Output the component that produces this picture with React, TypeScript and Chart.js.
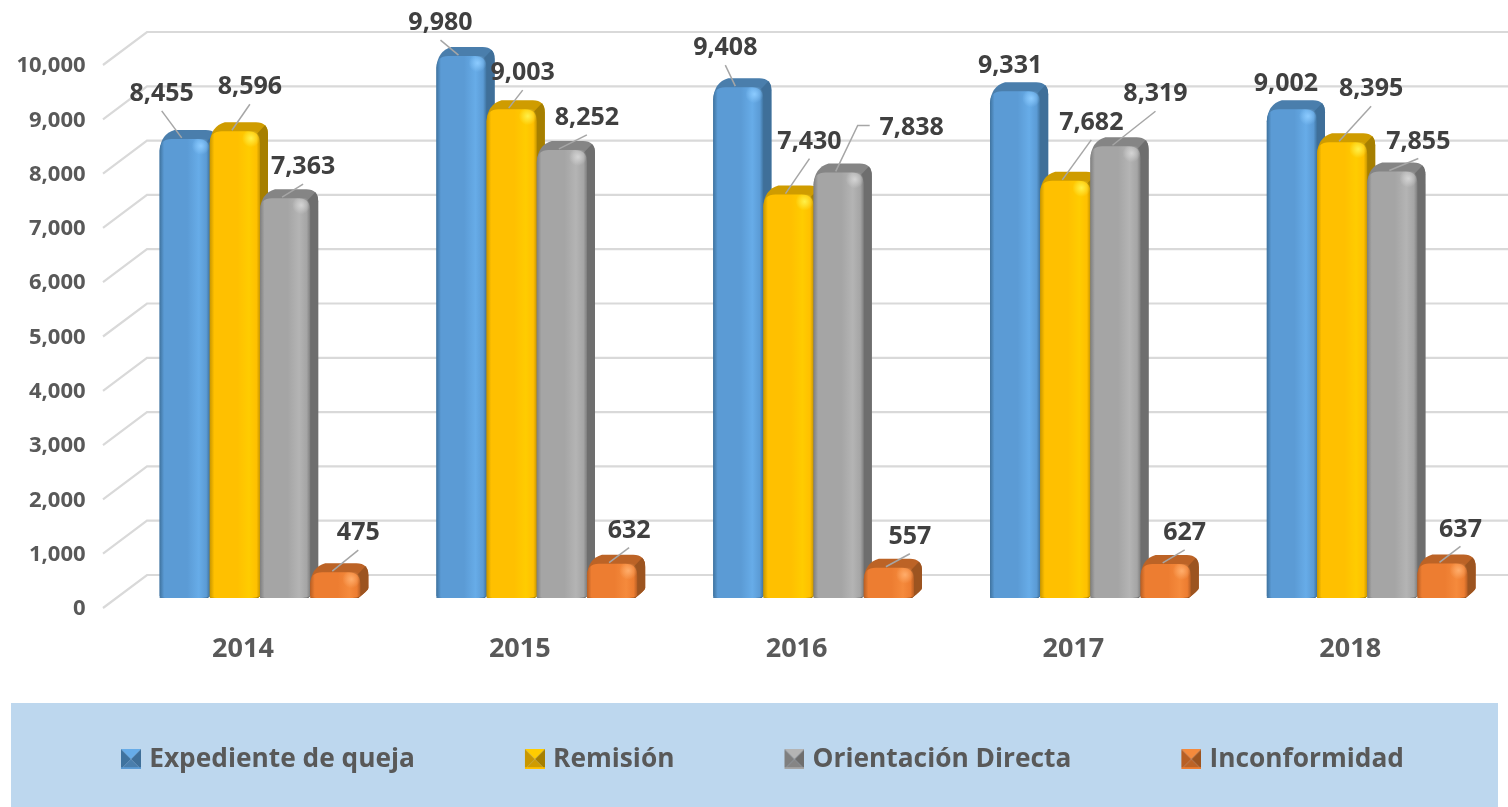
import React, { useEffect, useRef } from "react";
import { Chart, registerables } from "chart.js";

Chart.register(...registerables);

const years = ["2014", "2015", "2016", "2017", "2018"];
const seriesNames = ["Expediente de queja", "Remisión", "Orientación Directa", "Inconformidad"];
const expediente = [8455, 9980, 9408, 9331, 9002];
const remision = [8596, 9003, 7430, 7682, 8395];
const orientacion = [7363, 8252, 7838, 8319, 7855];
const inconformidad = [475, 632, 557, 627, 637];

// Where each hand-placed data label sits relative to the top of its bar.
const labelShiftExpediente = [[-23, -47], [-21, -35], [-13, -41], [-5, -27], [-6, -27]];
const labelShiftRemision = [[15, -46], [11, -38], [21, -55], [26, -60], [29, -55]];
const labelShiftOrientacion = [[18, -33], [25, -34], [73, -47], [40, -54], [26, -32]];
const labelShiftInconformidad = [[23, -41], [17, -35], [21, -33], [19, -33], [18, -36]];
const labelShifts = [labelShiftExpediente, labelShiftRemision, labelShiftOrientacion, labelShiftInconformidad];

const palettes = [
  { front: "#5B9BD5", light: "#67ACE8", dark: "#3F739F", top: "#4A7EAC", side: "#3F6F99", spot: "#8CCBFF" },
  { front: "#FFC000", light: "#FFCC00", dark: "#C99700", top: "#CF9C00", side: "#A67F00", spot: "#FFF04A" },
  { front: "#A5A5A5", light: "#B4B4B4", dark: "#7F7F7F", top: "#858585", side: "#6E6E6E", spot: "#D4D4D4" },
  { front: "#ED7D31", light: "#F58A3C", dark: "#B85F24", top: "#BC6326", side: "#9C5420", spot: "#FFAD6B" },
];

const FONT = '"Open Sans", "Noto Sans", sans-serif';
const LEGEND_PAD = 43;
const LEGEND_BOX = 82;
const LEGEND_HEIGHT = 104;

function makeLegendIcon(p: (typeof palettes)[number]) {
  const s = 20;
  const c = document.createElement("canvas");
  c.width = LEGEND_BOX + 10;
  c.height = s;
  const g = c.getContext("2d") as CanvasRenderingContext2D;
  const o = c.width - s;
  const tri = (col: string, pts: number[][]) => {
    g.fillStyle = col;
    g.beginPath();
    g.moveTo(o + pts[0][0], pts[0][1]);
    pts.slice(1).forEach((q) => g.lineTo(o + q[0], q[1]));
    g.closePath();
    g.fill();
  };
  const m = s / 2;
  tri(p.light, [[0, 0], [s, 0], [m, m]]);
  tri(p.dark, [[0, 0], [0, s], [m, m]]);
  tri(p.side, [[s, 0], [s, s], [m, m]]);
  tri(p.top, [[0, s], [s, s], [m, m]]);
  g.fillStyle = p.front;
  g.fillRect(o, s - 2, s, 2);
  return c;
}

function drawBar3D(ctx: CanvasRenderingContext2D, x: number, w: number, y: number, base: number, p: (typeof palettes)[number]) {
  const d = 8;
  const up = 9;
  const r = Math.min(12, (base - y) * 0.5);
  // back silhouette: top and side faces
  ctx.beginPath();
  ctx.moveTo(x, y + r);
  ctx.quadraticCurveTo(x + 1, y - up + 4, x + 15, y - up);
  ctx.lineTo(x + w + d - r, y - up);
  ctx.quadraticCurveTo(x + w + d, y - up, x + w + d, y - up + r);
  ctx.lineTo(x + w + d, base - 10);
  ctx.quadraticCurveTo(x + w + d, base - 8, x + w - 2, base);
  ctx.lineTo(x, base);
  ctx.closePath();
  ctx.save();
  ctx.clip();
  ctx.fillStyle = p.top;
  ctx.fillRect(x - 2, y - up - 2, w + d + 4, base - y + up + 4);
  ctx.fillStyle = p.side;
  ctx.beginPath();
  ctx.moveTo(x + w - r, y + r);
  ctx.lineTo(x + w + d - 3, y - up + 3);
  ctx.lineTo(x + w + d + 3, y - up + 3);
  ctx.lineTo(x + w + d + 3, base + 2);
  ctx.lineTo(x + w - r, base + 2);
  ctx.closePath();
  ctx.fill();
  ctx.restore();
  // front face
  const grad = ctx.createLinearGradient(x, 0, x + w, 0);
  grad.addColorStop(0, p.dark);
  grad.addColorStop(0.09, p.front);
  grad.addColorStop(0.55, p.front);
  grad.addColorStop(0.78, p.light);
  grad.addColorStop(0.93, p.front);
  grad.addColorStop(1, p.dark);
  ctx.beginPath();
  ctx.moveTo(x, base - 2);
  ctx.lineTo(x, y + r);
  ctx.quadraticCurveTo(x, y, x + r, y);
  ctx.lineTo(x + w - r, y);
  ctx.quadraticCurveTo(x + w, y, x + w, y + r);
  ctx.lineTo(x + w, base - 2);
  ctx.quadraticCurveTo(x + w - 3, base, x + w - 8, base);
  ctx.lineTo(x + 6, base);
  ctx.quadraticCurveTo(x + 2, base, x, base - 2);
  ctx.closePath();
  ctx.fillStyle = grad;
  ctx.fill();
  // corner highlight
  const sx = x + w - 9;
  const sy = y + 7;
  const spot = ctx.createRadialGradient(sx, sy, 0, sx, sy, 9);
  spot.addColorStop(0, p.spot);
  spot.addColorStop(1, p.spot + "00");
  ctx.fillStyle = spot;
  ctx.fillRect(sx - 9, sy - 7, 18, 16);
}

const wallPlugin = {
  id: "wall",
  beforeLayout(chart: any) {
    const legend = chart.legend;
    if (legend.__fitted) return;
    legend.__fitted = true;
    const fit = legend.fit;
    legend.fit = function () {
      fit.call(this);
      this.height = LEGEND_HEIGHT;
    };
  },
  beforeDraw(chart: any) {
    const { ctx, legend, scales, width } = chart;
    ctx.save();
    ctx.fillStyle = "#BDD7EE";
    ctx.fillRect(legend.left, legend.top, width - legend.left - 10, legend.height);
    ctx.strokeStyle = "#D9D9D9";
    ctx.lineWidth = 2.2;
    const left = chart.chartArea.left;
    scales.y.ticks.forEach((t: any) => {
      const py = scales.y.getPixelForValue(t.value);
      ctx.beginPath();
      ctx.moveTo(left - 18.6, py + 10);
      ctx.lineTo(left + 25.4, py - 23);
      ctx.lineTo(width, py - 23);
      ctx.stroke();
    });
    ctx.restore();
  },
};

const barsPlugin = {
  id: "bars3d",
  beforeDatasetsDraw(chart: any) {
    const { ctx } = chart;
    chart.data.datasets.forEach((_: any, i: number) => {
      const meta = chart.getDatasetMeta(i);
      meta.data.forEach((el: any) => {
        const { x, y, base, width } = el.getProps(["x", "y", "base", "width"], true);
        drawBar3D(ctx, x - width / 2, width, y, base, palettes[i]);
      });
    });
  },
  beforeDatasetDraw() {
    return false;
  },
  afterDatasetsDraw(chart: any) {
    const { ctx } = chart;
    ctx.save();
    chart.data.datasets.forEach((ds: any, i: number) => {
      const meta = chart.getDatasetMeta(i);
      meta.data.forEach((el: any, j: number) => {
        const [dx, dy] = labelShifts[i][j];
        const cx = el.x + dx;
        const cy = el.y + dy;
        const tipX = el.x - 3;
        const tipY = el.y - 1;
        ctx.strokeStyle = "#A6A6A6";
        ctx.lineWidth = 1.5;
        if (dx > 60) {
          ctx.beginPath();
          ctx.moveTo(cx - 42, cy);
          ctx.lineTo(cx - 54, cy);
          ctx.lineTo(tipX, tipY);
          ctx.stroke();
        } else if (dy <= -30) {
          ctx.beginPath();
          ctx.moveTo(cx, cy + 19);
          ctx.lineTo(tipX, tipY);
          ctx.stroke();
        }
        ctx.fillStyle = "#404040";
        ctx.font = `700 25px ${FONT}`;
        ctx.textAlign = "center";
        ctx.textBaseline = "middle";
        ctx.fillText(ds.data[j].toLocaleString("en-US"), cx, cy + 2);
      });
    });
    ctx.restore();
  },
};

export default function App() {
  const ref = useRef<HTMLCanvasElement | null>(null);
  useEffect(() => {
    document.body.style.margin = "0";
    const icons = palettes.map(makeLegendIcon);
    const values = [expediente, remision, orientacion, inconformidad];
    const chart = new Chart(ref.current as HTMLCanvasElement, {
      type: "bar",
      data: {
        labels: years,
        datasets: seriesNames.map((label, i) => ({
          label,
          data: values[i],
          backgroundColor: palettes[i].front,
          categoryPercentage: 0.7254,
          barPercentage: 1,
        })),
      },
      options: {
        responsive: false,
        animation: false,
        layout: { autoPadding: false, padding: { top: 55, left: 11, right: 2.4, bottom: 0 } },
        plugins: {
          tooltip: { enabled: false },
          title: { display: false },
          legend: {
            position: "bottom",
            align: "start",
            labels: {
              usePointStyle: true,
              pointStyleWidth: LEGEND_BOX,
              padding: LEGEND_PAD,
              color: "#595959",
              font: { family: FONT, size: 26.3, weight: "700" },
              generateLabels(c: any) {
                return Chart.defaults.plugins.legend.labels
                  .generateLabels(c)
                  .map((it: any, i: number) => ({ ...it, pointStyle: icons[i] }));
              },
            },
          },
        },
        scales: {
          x: {
            grid: { display: false, drawTicks: false },
            border: { display: false },
            afterFit(s: any) {
              s.height = 105;
            },
            ticks: {
              padding: 35,
              labelOffset: -17,
              maxRotation: 0,
              color: "#595959",
              font: { family: FONT, size: 27, weight: "700" },
            },
          },
          y: {
            min: 0,
            max: 10000,
            grid: { display: false, drawTicks: false },
            border: { display: false },
            afterFit(s: any) {
              s.width = 110.6;
            },
            ticks: {
              stepSize: 1000,
              padding: 36,
              labelOffset: 11,
              color: "#595959",
              font: { family: FONT, size: 22, weight: "700" },
              callback: (v: any) => Number(v).toLocaleString("en-US"),
            },
          },
        },
      },
      plugins: [wallPlugin, barsPlugin],
    } as any);
    return () => chart.destroy();
  }, []);
  return <canvas ref={ref} width={1508} height={807} style={{ display: "block" }} />;
}
